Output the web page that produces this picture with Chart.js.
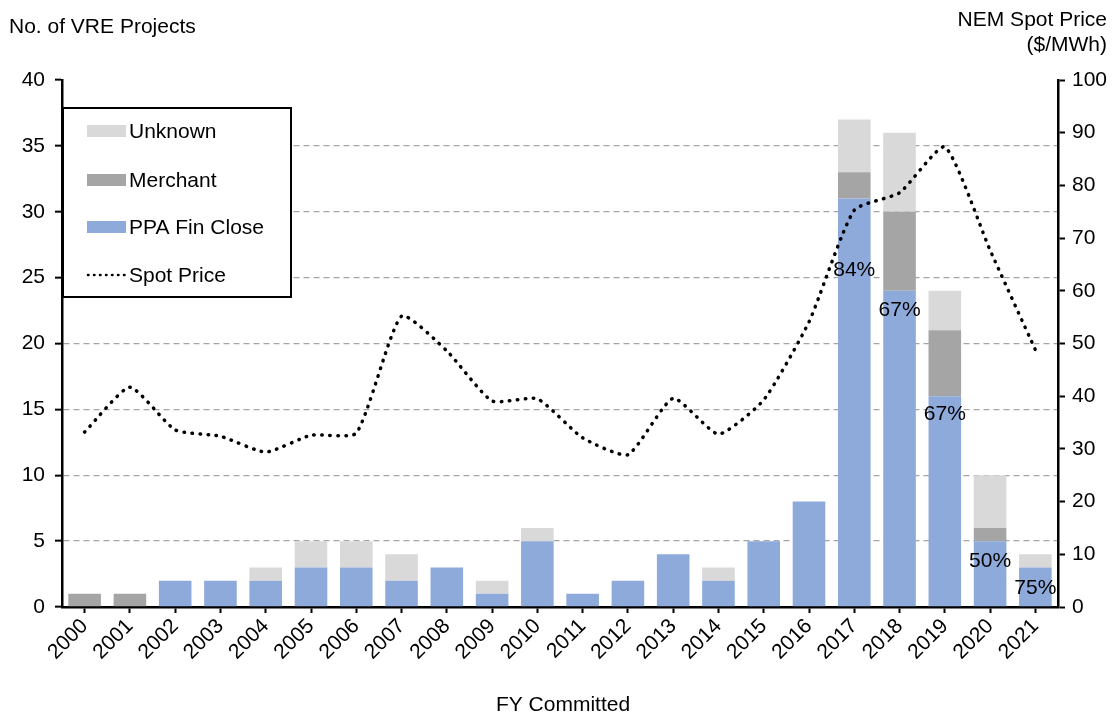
<!DOCTYPE html>
<html>
<head>
<meta charset="utf-8">
<script src="https://cdn.jsdelivr.net/npm/chart.js@4.4.1/dist/chart.umd.min.js"></script>
<style>
html,body{margin:0;padding:0;background:#fff;}
#wrap{width:1113px;height:713px;position:relative;}
</style>
</head>
<body>
<div id="wrap"><canvas id="c" width="1113" height="713"></canvas></div>
<script>
const years = ['2000','2001','2002','2003','2004','2005','2006','2007','2008','2009','2010','2011','2012','2013','2014','2015','2016','2017','2018','2019','2020','2021'];
const ppaFinClose = [0,0,2,2,2,3,3,2,3,1,5,1,2,4,2,5,8,31,24,16,5,3];
const merchant    = [1,1,0,0,0,0,0,0,0,0,0,0,0,0,0,0,0,2,6,5,1,0];
const unknown     = [0,0,0,0,1,2,2,2,0,1,1,0,0,0,1,0,0,4,6,3,4,1];
const spotPrice   = [33.2,41.7,33.6,32.4,29.4,32.6,33.0,55.2,48.6,39.1,39.5,32.1,28.9,39.6,32.8,39.3,54.1,75.3,78.6,87.3,67.7,48.8];
const pctYears  = ['2017','2018','2019','2020','2021'];
const pctLabels = ['84%','67%','67%','50%','75%'];
const pctLabelAt = [25.6,22.5,14.6,3.5,1.4];
const leftTicks = [0,5,10,15,20,25,30,35,40];
const rightTicks = [0,10,20,30,40,50,60,70,80,90,100];

const FONT = 'Liberation Sans, Arial, sans-serif';
const FS = 21;

const overlay = {
  id:'overlay',
  afterDraw(chart){
    const ctx = chart.ctx;
    const xs = chart.scales.x, ys = chart.scales.y;
    ctx.save();
    // percent labels
    ctx.fillStyle = '#000';
    ctx.font = '21px ' + FONT;
    ctx.textAlign = 'center';
    ctx.textBaseline = 'middle';
    pctYears.forEach((yr,i)=>{
      const x = xs.getPixelForValue(years.indexOf(yr));
      const y = ys.getPixelForValue(pctLabelAt[i]);
      ctx.fillText(pctLabels[i], x, y);
    });
    // axis titles
    ctx.font = FS + 'px ' + FONT;
    ctx.textAlign = 'left';
    ctx.fillText('No. of VRE Projects', 9, 27);
    ctx.textAlign = 'right';
    ctx.fillText('NEM Spot Price', 1107, 20);
    ctx.fillText('($/MWh)', 1107, 45);
    ctx.textAlign = 'center';
    ctx.fillText('FY Committed', 563, 705);
    // legend
    const lx = 63, ly = 108, lw = 228, lh = 189;
    ctx.fillStyle = '#fff';
    ctx.fillRect(lx, ly, lw, lh);
    ctx.strokeStyle = '#000';
    ctx.lineWidth = 2;
    ctx.strokeRect(lx, ly, lw, lh);
    const ds = chart.data.datasets;
    const order = [2,1,0,3];
    const rowsY = [131,180,227,275];
    ctx.font = FS + 'px ' + FONT;
    ctx.textAlign = 'left';
    order.forEach((di,k)=>{
      const d = ds[di];
      const y = rowsY[k];
      if (d.type === 'line') {
        ctx.strokeStyle = '#000';
        ctx.lineWidth = 2.5;
        ctx.lineCap = 'round';
        ctx.setLineDash([0.5,5.5]);
        ctx.beginPath(); ctx.moveTo(88,y); ctx.lineTo(125,y); ctx.stroke();
        ctx.setLineDash([]);
      } else {
        ctx.fillStyle = d.backgroundColor;
        ctx.fillRect(87, y-6, 39, 12);
      }
      ctx.fillStyle = '#000';
      ctx.fillText(d.label, 129, y+1);
    });
    ctx.restore();
  }
};

new Chart(document.getElementById('c'), {
  data: {
    labels: years,
    datasets: [
      {type:'bar', label:'PPA Fin Close', data: ppaFinClose, backgroundColor:'#8EAADB', yAxisID:'y', stack:'s', order:2, barPercentage:0.72, categoryPercentage:1.0},
      {type:'bar', label:'Merchant', data: merchant, backgroundColor:'#A5A5A5', yAxisID:'y', stack:'s', order:2, barPercentage:0.72, categoryPercentage:1.0},
      {type:'bar', label:'Unknown', data: unknown, backgroundColor:'#D9D9D9', yAxisID:'y', stack:'s', order:2, barPercentage:0.72, categoryPercentage:1.0},
      {type:'line', label:'Spot Price', data: spotPrice, yAxisID:'y2', borderColor:'#000', borderWidth:3.5, borderDash:[0.5,7.5], borderCapStyle:'round', pointRadius:0, tension:0.18, fill:false, order:1}
    ]
  },
  options: {
    responsive:false,
    animation:false,
    devicePixelRatio:1,
    layout:{padding:{top:80,left:0,right:0,bottom:0}},
    plugins:{legend:{display:false}, tooltip:{enabled:false}, title:{display:false}},
    scales:{
      x:{
        stacked:true,
        offset:true,
        grid:{display:true, offset:false, drawOnChartArea:false, drawTicks:true, tickLength:6, tickColor:'#000', tickWidth:2},
        border:{display:true, color:'#000', width:2.5},
        ticks:{color:'#000', font:{family:FONT, size:FS}, minRotation:45, maxRotation:45, padding:1, autoSkip:false},
        afterFit(s){ s.height = 106; }
      },
      y:{
        stacked:true,
        position:'left',
        min:0, max:40,
        afterBuildTicks(s){ s.ticks = leftTicks.map(v=>({value:v})); },
        grid:{display:true, drawOnChartArea:true, drawTicks:true, tickLength:7, tickColor:'#000', tickWidth:2,
              color:(c)=> (c.tick && (c.tick.value===0 || c.tick.value===40)) ? 'rgba(0,0,0,0)' : '#A6A6A6', lineWidth:1.3},
        border:{display:true, color:'#000', width:2.5, dash:[6,4]},
        ticks:{color:'#000', font:{family:FONT, size:FS}, padding:10},
        afterFit(s){ s.width = 62; }
      },
      y2:{
        position:'right',
        min:0, max:100,
        afterBuildTicks(s){ s.ticks = rightTicks.map(v=>({value:v})); },
        grid:{display:true, drawOnChartArea:false, drawTicks:true, tickLength:7, tickColor:'#000', tickWidth:2},
        border:{display:true, color:'#000', width:2.5},
        ticks:{color:'#000', font:{family:FONT, size:FS}, padding:7},
        afterFit(s){ s.width = 55; }
      }
    }
  },
  plugins:[overlay]
});
</script>
</body>
</html>
